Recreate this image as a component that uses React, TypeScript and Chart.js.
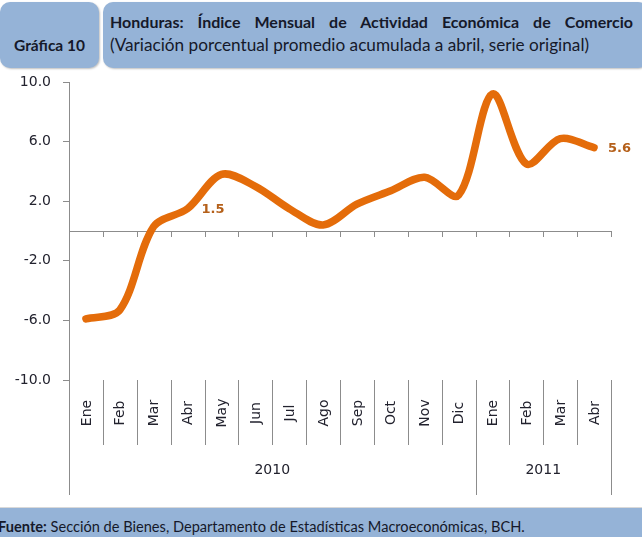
import React, { useEffect, useRef } from "react";
import { Chart, registerables } from "chart.js";

Chart.register(...registerables);

const months = ["Ene", "Feb", "Mar", "Abr", "May", "Jun", "Jul", "Ago", "Sep", "Oct", "Nov", "Dic", "Ene", "Feb", "Mar", "Abr"];
const years = ["2010", "2011"];
const monthsPerYear = [12, 4];
const values = [-5.9, -5.3, 0.3, 1.5, 3.8, 3.0, 1.5, 0.4, 1.8, 2.7, 3.6, 2.4, 9.2, 4.5, 6.2, 5.6];
const labelledIndexes = [3, 15];
const yTicks = [-10, -6, -2, 2, 6, 10];

const GRAY = "#8c8c8c";
const TEXT = "#22222e";
const FONT = "DejaVu Sans";

const decorPlugin = {
  id: "decor",
  beforeDatasetsDraw(chart: any) {
    const { ctx, chartArea } = chart;
    const x = chart.scales.x;
    const y = chart.scales.y;
    const n = months.length;
    const step = (x.getPixelForValue(n - 1) - x.getPixelForValue(0)) / (n - 1);
    const bound = (i: number) => x.getPixelForValue(0) - step / 2 + i * step;
    const y0 = y.getPixelForValue(0);
    ctx.save();
    ctx.strokeStyle = GRAY;
    ctx.lineWidth = 1;
    ctx.beginPath();
    ctx.moveTo(chartArea.left, Math.round(y0) + 0.5);
    ctx.lineTo(bound(n), Math.round(y0) + 0.5);
    for (let i = 1; i <= n; i++) {
      const bx = Math.round(bound(i)) + 0.5;
      ctx.moveTo(bx, y0);
      ctx.lineTo(bx, y0 + 6);
    }
    const yearBounds = [0];
    let acc = 0;
    monthsPerYear.forEach((m) => { acc += m; yearBounds.push(acc); });
    for (let i = 0; i <= n; i++) {
      const bx = Math.round(bound(i)) + 0.5;
      const long = yearBounds.includes(i);
      ctx.moveTo(bx, chartArea.bottom);
      ctx.lineTo(bx, chartArea.bottom + (long ? 115 : 65));
    }
    ctx.stroke();

    ctx.fillStyle = TEXT;
    ctx.font = `14px '${FONT}'`;
    ctx.textAlign = "center";
    ctx.textBaseline = "middle";
    months.forEach((m, i) => {
      const cx = x.getPixelForValue(i);
      ctx.save();
      ctx.translate(cx + 1, chartArea.bottom + 33);
      ctx.rotate(-Math.PI / 2);
      ctx.fillText(m, 0, 0);
      ctx.restore();
    });
    years.forEach((yr, k) => {
      const cx = (bound(yearBounds[k]) + bound(yearBounds[k + 1])) / 2;
      ctx.fillText(yr, cx, chartArea.bottom + 90);
    });
    ctx.restore();
  },
  afterDatasetsDraw(chart: any) {
    const { ctx } = chart;
    const meta = chart.getDatasetMeta(0);
    ctx.save();
    ctx.fillStyle = "#b5601a";
    ctx.font = `bold 13px '${FONT}'`;
    ctx.textAlign = "left";
    ctx.textBaseline = "middle";
    labelledIndexes.forEach((i) => {
      const p = meta.data[i];
      ctx.fillText(values[i].toFixed(1), p.x + 14, p.y + 1);
    });
    ctx.restore();
  },
};

function LineChart() {
  const ref = useRef<HTMLCanvasElement>(null);
  useEffect(() => {
    const chart = new Chart(ref.current as HTMLCanvasElement, {
      type: "line",
      data: {
        labels: months.map((m, i) => `${m}-${i}`),
        datasets: [
          {
            data: values,
            borderColor: "#E46C0A",
            borderWidth: 7.5,
            borderCapStyle: "round",
            borderJoinStyle: "round",
            pointRadius: 0,
            tension: 0.32,
            fill: false,
          },
        ],
      },
      options: {
        animation: false,
        responsive: false,
        maintainAspectRatio: false,
        layout: { padding: { top: 12, right: 31, bottom: 127, left: 0 } },
        plugins: { legend: { display: false }, tooltip: { enabled: false } },
        scales: {
          x: { type: "category", offset: true, display: false },
          y: {
            min: -10,
            max: 10,
            afterFit: (s: any) => { s.width = 69; s.paddingTop = 0; s.paddingBottom = 0; },
            afterBuildTicks: (s: any) => { s.ticks = yTicks.map((v) => ({ value: v })); },
            border: { color: GRAY, width: 1 },
            grid: { drawOnChartArea: false, drawTicks: true, tickLength: 6, color: GRAY },
            ticks: {
              padding: 12,
              color: TEXT,
              font: { family: FONT, size: 14 },
              callback: (v: any) => Number(v).toFixed(1),
            },
          },
        },
      },
      plugins: [decorPlugin],
    } as any);
    return () => chart.destroy();
  }, []);
  return <canvas ref={ref} width={642} height={437} style={{ position: "absolute", left: 0, top: 70 }} />;
}

export default function App() {
  const box: React.CSSProperties = {
    position: "absolute",
    background: "#95B3D7",
    boxShadow: "1px 1px 2px rgba(0,0,0,0.25)",
    color: "#15192a",
    fontFamily: "Lato, 'Open Sans', sans-serif",
  };
  return (
    <div style={{ position: "absolute", left: 0, top: 0, width: 642, height: 537, background: "#fff", overflow: "hidden" }}>
      <div style={{ ...box, left: 0, top: 2, width: 99, height: 66, borderRadius: 10, display: "flex", alignItems: "center", justifyContent: "center", paddingTop: 20, boxSizing: "border-box", fontWeight: "bold", fontSize: 15.5 }}>
        Gráfica 10
      </div>
      <div style={{ ...box, left: 103, top: 2, width: 545, height: 66, borderRadius: 10 }}>
        <div style={{ position: "absolute", left: 7, top: 10, width: 523, fontWeight: "bold", fontSize: 16, lineHeight: "20px", textAlign: "justify", textAlignLast: "justify", whiteSpace: "nowrap" }}>
          Honduras: Índice Mensual de Actividad Económica de Comercio
        </div>
        <div style={{ position: "absolute", left: 7, top: 33, fontSize: 17.2, lineHeight: "20px", whiteSpace: "nowrap" }}>
          (Variación porcentual promedio acumulada a abril, serie original)
        </div>
      </div>
      <LineChart />
      <div style={{ position: "absolute", left: 0, top: 507, width: 642, height: 30, background: "#95B3D7", borderTop: "1px solid #d9d9d9", fontFamily: "Lato, 'Open Sans', sans-serif", fontSize: 14.6, color: "#15192a", lineHeight: "30px", paddingTop: 4, boxSizing: "border-box", whiteSpace: "nowrap" }}>
        <span style={{ marginLeft: -2, fontWeight: "bold" }}>Fuente:</span> Sección de Bienes, Departamento de Estadísticas Macroeconómicas, BCH.
      </div>
    </div>
  );
}
